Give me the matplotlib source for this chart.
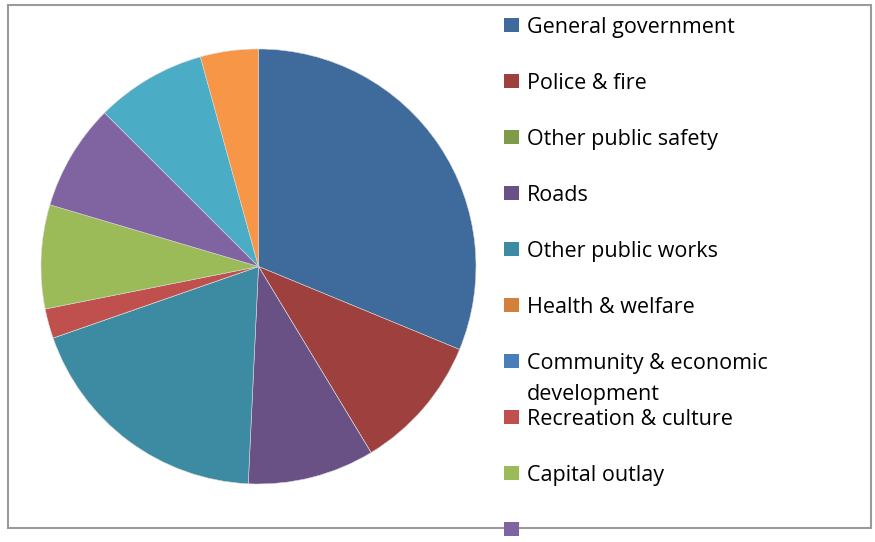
import matplotlib
matplotlib.use("Agg")
import matplotlib.pyplot as plt
from matplotlib.patches import Rectangle

categories = ["General government", "Police & fire", "Other public safety", "Roads",
              "Other public works", "Health & welfare",
              "Community & economic\ndevelopment", "Recreation & culture",
              "Capital outlay", "", "", ""]
values = [31.2, 10.1, 0.0, 9.4, 18.9, 0.0, 0.0, 2.2, 7.7, 7.9, 8.2, 4.3]
colors = ["#3F6A9C", "#9E413E", "#7F9A48", "#695185", "#3D8BA3", "#D2803A",
          "#4A7EBB", "#BF504D", "#9BBB59", "#8064A2", "#4BACC6", "#F79646"]
legend_count = 10

W, H = 875, 542
fig = plt.figure(figsize=(W / 100, H / 100), dpi=100)
plt.rcParams['font.family'] = ['Open Sans', 'DejaVu Sans']

# outer frame
fig.patches.append(Rectangle((8 / W, 1 - 528 / H), (871 - 8) / W, (528 - 5) / H,
                             transform=fig.transFigure, fill=False,
                             edgecolor="#9a9a9a", linewidth=1.5, zorder=0))

cx, cy, r = 258.5, 266.5, 217.5
ax = fig.add_axes([(cx - r) / W, 1 - (cy + r) / H, 2 * r / W, 2 * r / H])
ax.pie(values, colors=colors, startangle=90, counterclock=False, radius=1,
       wedgeprops=dict(edgecolor="#d8d8d8", linewidth=0.4))
ax.set_xlim(-1, 1)
ax.set_ylim(-1, 1)
ax.set_aspect("equal")
ax.axis("off")

# legend
for i in range(legend_count):
    base = 33 + 56 * i
    fig.patches.append(Rectangle((504 / W, 1 - (base - 1) / H), 15 / W, 14 / H,
                                 transform=fig.transFigure, facecolor=colors[i],
                                 edgecolor="none", zorder=3))
    for j, line in enumerate(categories[i].split("\n")):
        fig.text(527 / W, 1 - (base + 31 * j) / H, line, fontsize=15.5,
                 va="baseline", ha="left", color="#000000")

fig.savefig("out.png", dpi=100)
